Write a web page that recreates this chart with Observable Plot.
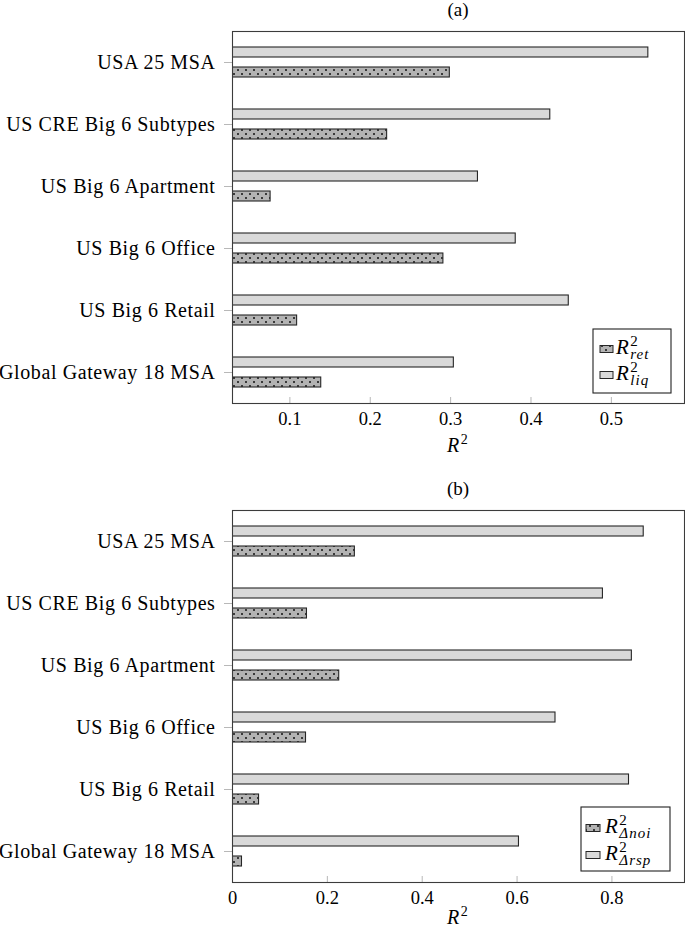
<!DOCTYPE html>
<html>
<head>
<meta charset="utf-8">
<script src="https://cdn.jsdelivr.net/npm/d3@7"></script>
<script src="https://cdn.jsdelivr.net/npm/@observablehq/plot@0.6"></script>
<style>
  body { margin: 0; background: #fff; }
  #root { position: relative; width: 685px; height: 932px; overflow: hidden; font-family: "Liberation Serif", serif; }
  #root > svg.panel { position: absolute; left: 0; }
</style>
</head>
<body>
<svg width="0" height="0" style="position:absolute">
  <defs>
    <pattern id="dots" patternUnits="userSpaceOnUse" width="8" height="8">
      <rect width="8" height="8" fill="#b3b3b3"></rect>
      <circle cx="2" cy="2" r="1" fill="#111"></circle>
      <circle cx="6" cy="6" r="1" fill="#111"></circle>
    </pattern>
  </defs>
</svg>
<div id="root"></div>
<script>
// ---- data ----
const categories = ["USA 25 MSA", "US CRE Big 6 Subtypes", "US Big 6 Apartment", "US Big 6 Office", "US Big 6 Retail", "Global Gateway 18 MSA"];
// panel (a)
const r2Ret = [0.299, 0.221, 0.076, 0.291, 0.109, 0.139];
const r2Liq = [0.546, 0.424, 0.334, 0.381, 0.447, 0.304];
// panel (b)
const r2Noi = [0.258, 0.157, 0.225, 0.155, 0.056, 0.020];
const r2Rsp = [0.867, 0.781, 0.842, 0.681, 0.836, 0.604];
// ticks
const ticksA = [0.1, 0.2, 0.3, 0.4, 0.5];
const ticksB = [0, 0.2, 0.4, 0.6, 0.8];
const domainA = [0.0286, 0.591];
const domainB = [0, 0.953];

const FONT = '"Liberation Serif", "Times New Roman", serif';
const root = document.getElementById("root");

function mathLabel(sel, x, y, sub, size, script) {
  const t = sel.append("text").attr("x", x).attr("y", y).attr("text-anchor", "start")
    .attr("font-family", FONT).attr("font-size", size).attr("fill", "#000");
  t.append("tspan").attr("font-style", "italic").text("R");
  t.append("tspan").attr("font-size", script).attr("dy", -8).attr("dx", 1.5).text("2");
  if (sub) {
    t.append("tspan").attr("font-size", script).attr("font-style", "italic")
      .attr("letter-spacing", 1).attr("dx", -script * 0.5).attr("dy", 13).text(sub);
  }
  return t;
}

function panel(cfg) {
  const upper = categories.map((c, i) => ({cat: c, v: cfg.upper[i]}));
  const lower = categories.map((c, i) => ({cat: c, v: cfg.lower[i]}));
  const chart = Plot.plot({
    width: 685,
    height: cfg.height,
    marginTop: cfg.marginTop,
    marginBottom: cfg.marginBottom,
    marginLeft: 232,
    marginRight: 1,
    style: {fontFamily: FONT, fontSize: "18px", background: "transparent", overflow: "visible", color: "#000"},
    x: {domain: cfg.domain, label: null},
    y: {domain: categories, padding: 0, label: null},
    marks: [
      Plot.barX(upper, {x: "v", y: "cat", insetTop: 16, insetBottom: 36, fill: "#d9d9d9", stroke: "#262626", strokeWidth: 1.1, clip: true}),
      Plot.barX(lower, {x: "v", y: "cat", insetTop: 36, insetBottom: 16, fill: "url(#dots)", stroke: "#262626", strokeWidth: 1.1, clip: true}),
      Plot.axisX({ticks: cfg.ticks, tickSize: -6, tickFormat: () => "", stroke: "#b8b8b8"}),
      Plot.axisX({ticks: cfg.ticks, tickSize: 0, tickPadding: 8, tickFormat: d => String(d), fontSize: 18.5, fill: "#000"}),
      Plot.axisY({tickSize: 8, tickFormat: () => "", stroke: "#b8b8b8"}),
      Plot.axisY({tickSize: 0, tickPadding: 17, fontSize: 20, fill: "#000"}),
      Plot.frame({stroke: "#3c3c3c", strokeWidth: 1.1})
    ]
  });
  chart.classList.add("panel");
  chart.style.top = cfg.top + "px";
  const svg = d3.select(chart);
  svg.selectAll('[aria-label="y-axis tick label"] text').attr("letter-spacing", "0.6");
  // title
  svg.append("text").attr("x", 458).attr("y", cfg.titleY).attr("text-anchor", "middle")
    .attr("font-family", FONT).attr("font-size", 19).text(cfg.title);
  // x label R^2
  mathLabel(svg, 447, cfg.xlabelY, null, 20, 14);
  // legend
  const L = cfg.legend;
  const g = svg.append("g");
  g.append("rect").attr("x", L.x).attr("y", L.y).attr("width", L.w).attr("height", L.h)
    .attr("fill", "#fff").attr("stroke", "#222").attr("stroke-width", 1.1);
  L.items.forEach((it, i) => {
    const base = L.y + L.base[i];
    g.append("rect").attr("x", L.x + L.sx).attr("y", base - 8.5).attr("width", L.sw).attr("height", 7)
      .attr("fill", it.fill).attr("stroke", "#262626").attr("stroke-width", 1);
    mathLabel(g, L.x + L.tx, base, it.sub, 21, 15);
  });
  root.appendChild(chart);
}

panel({
  top: 0, height: 460, marginTop: 31, marginBottom: 57,
  domain: domainA, ticks: ticksA, upper: r2Liq, lower: r2Ret,
  title: "(a)", titleY: 16, xlabelY: 452,
  legend: {x: 593, y: 329, w: 78, h: 64, sx: 7, sw: 13, tx: 23, base: [25, 51],
    items: [{fill: "url(#dots)", sub: "ret"}, {fill: "#d9d9d9", sub: "liq"}]}
});

panel({
  top: 460, height: 472, marginTop: 50, marginBottom: 50,
  domain: domainB, ticks: ticksB, upper: r2Rsp, lower: r2Noi,
  title: "(b)", titleY: 35, xlabelY: 464,
  legend: {x: 581, y: 347, w: 89, h: 64, sx: 5, sw: 14, tx: 24, base: [26, 53],
    items: [{fill: "url(#dots)", sub: "Δnoi"}, {fill: "#d9d9d9", sub: "Δrsp"}]}
});
</script>
</body>
</html>
